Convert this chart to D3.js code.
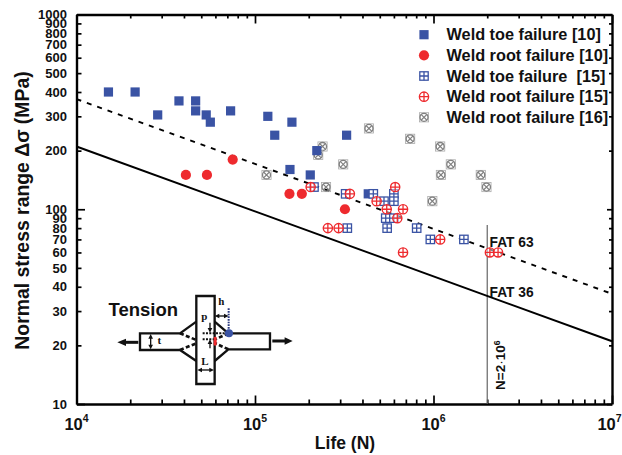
<!DOCTYPE html>
<html><head><meta charset="utf-8">
<script src="https://cdn.jsdelivr.net/npm/d3@7"></script>
<style>html,body{margin:0;padding:0;background:#fff}svg{display:block}text{font-family:"Liberation Sans",Arial,sans-serif;font-weight:bold;fill:#111}</style>
</head><body><div id="chart"></div>
<script>
const yTickValues=[10,20,30,40,50,60,70,80,90,100,200,300,400,500,600,700,800,900,1000];
const xMajor=[1e4,1e5,1e6,1e7];
const xMinorMultipliers=[2,3,4,5,6,7,8,9];
const xMajorExponents=["4","5","6","7"];
const toe10Life=[1.51e4,2.13e4,2.85e4,3.75e4,4.65e4,4.65e4,5.33e4,5.62e4,7.3e4,1.18e5,1.29e5,1.61e5,1.57e5,2.04e5,2.22e5,3.26e5,4.31e5];
const toe10Stress=[400,400,305,360,360,320,305,280,320,300,240,280,160,150,200,240,120];
const root10Life=[4.1e4,5.38e4,7.5e4,1.56e5,1.83e5,3.19e5];
const root10Stress=[150,150,180,120,120,100];
const toe15Life=[2.14e5,3.22e5,4.6e5,5.28e5,6.0e5,6.0e5,5.4e5,6.0e5,5.5e5,3.29e5,8.05e5,9.6e5,1.48e6];
const toe15Stress=[130,120,120,110,120,110,90,90,80,80,80,70,70];
const root15Life=[2.05e5,3.4e5,6.1e5,4.8e5,5.47e5,6.75e5,6.27e5,2.56e5,2.94e5,6.75e5,1.09e6,2.07e6,2.3e6];
const root15Stress=[130,120,130,110,100,100,90,80,80,60,70,60,60];
const root16Life=[1.16e5,4.35e5,7.4e5,1.09e6,2.39e5,2.26e5,3.12e5,1.25e6,1.1e6,1.84e6,1.98e6,2.5e5,9.85e5];
const root16Stress=[150,260,230,210,210,190,170,170,150,150,130,130,110];
const fatLife=[1e4,1e7];
const fat36Stress=[210,21];
const fat63Stress=[368,36.8];
const refLife=[2e6,2e6];
const refStress=[10,83];
const legendLabels=["Weld toe failure [10]","Weld root failure [10]","Weld toe failure  [15]","Weld root failure [15]","Weld root failure [16]"];
const BLUE="#3a53a4",RED="#ee2a2e",GRAY="#808080";

const W=622,H=455,L=76.5,R=612,T=14.5,B=404;
const svg=d3.select("#chart").append("svg").attr("width",W).attr("height",H).attr("viewBox",`0 0 ${W} ${H}`);
const x=d3.scaleLog().domain([1e4,1e7]).range([L,R]);
const y=d3.scaleLog().domain([10,1000]).range([B,T]);
const xAll=[];
xMajor.forEach(m=>{xAll.push(m);if(m<1e7)xMinorMultipliers.forEach(k=>xAll.push(m*k));});
const isMajorX=v=>xMajor.some(m=>Math.abs(m-v)<1);
const isMajorY=v=>v===10||v===100||v===1000;

function style(g){
  g.selectAll("path").attr("stroke","#000").attr("stroke-width",2.4);
  g.selectAll(".tick line").attr("stroke","#000").attr("stroke-width",1.7);
}
const gb=svg.append("g").attr("transform",`translate(0,${B})`).call(d3.axisBottom(x).tickValues(xAll).tickSizeOuter(0).tickSizeInner(-4.5).tickFormat(""));
style(gb);gb.selectAll(".tick line").filter(isMajorX).attr("y2",-8.5);
const gt=svg.append("g").attr("transform",`translate(0,${T})`).call(d3.axisTop(x).tickValues(xAll).tickSizeOuter(0).tickSizeInner(-4).tickFormat(""));
style(gt);gt.selectAll(".tick line").filter(isMajorX).attr("y2",9);
const gl=svg.append("g").attr("transform",`translate(${L},0)`).call(d3.axisLeft(y).tickValues(yTickValues).tickSizeOuter(0).tickSizeInner(-5).tickPadding(9.5).tickFormat(d3.format("d")));
style(gl);gl.selectAll(".tick line").filter(isMajorY).attr("x2",8.5);
gl.selectAll("text").style("font-size","13px").attr("fill","#111");
const gr=svg.append("g").attr("transform",`translate(${R},0)`).call(d3.axisRight(y).tickValues(yTickValues).tickSizeOuter(0).tickSizeInner(-3).tickFormat(""));
style(gr);gr.selectAll(".tick line").filter(isMajorY).attr("x2",-5);

xMajor.forEach((m,i)=>{
  const t=svg.append("text").attr("x",Math.min(x(m),609.5)).attr("y",430).attr("text-anchor","middle").style("font-size","16.5px");
  t.append("tspan").text("10");
  t.append("tspan").attr("dy",-8).style("font-size","10.5px").text(xMajorExponents[i]);
});
svg.append("text").attr("x",345).attr("y",449).attr("text-anchor","middle").style("font-size","17.5px").text("Life (N)");
svg.append("text").attr("transform","translate(29,210.5) rotate(-90)").attr("text-anchor","middle").style("font-size","19.4px").text("Normal stress range Δσ (MPa)");

const line=d3.line().x(d=>x(d[0])).y(d=>y(d[1]));
const gl2=svg.append("g").attr("fill","none");
gl2.append("path").attr("d",line(d3.zip(refLife,refStress))).attr("stroke","#666").attr("stroke-width",1.2);
gl2.append("path").attr("d",line(d3.zip(fatLife,fat36Stress))).attr("stroke","#000").attr("stroke-width",1.9);
gl2.append("path").attr("d",line(d3.zip(fatLife,fat63Stress))).attr("stroke","#000").attr("stroke-width",1.9).attr("stroke-dasharray","5,6");

const marker={
  filledSquare(g){g.append("rect").attr("x",-4.6).attr("y",-4.6).attr("width",9.2).attr("height",9.2).attr("fill",BLUE);},
  filledCircle(g){g.append("circle").attr("r",5.1).attr("fill",RED);},
  gridSquare(g){
    g.append("rect").attr("x",-4.2).attr("y",-4.2).attr("width",8.4).attr("height",8.4).attr("fill","#fff").attr("stroke",BLUE).attr("stroke-width",1.3);
    g.append("path").attr("d","M0,-4.2V4.2M-4.2,0H4.2").attr("stroke",BLUE).attr("stroke-width",1.3).attr("fill","none");
  },
  crossCircle(g){
    g.append("circle").attr("r",4.6).attr("fill","#fff").attr("fill-opacity",.5).attr("stroke",RED).attr("stroke-width",1.4);
    g.append("path").attr("d","M-4.6,0H4.6M0,-4.6V4.6").attr("stroke",RED).attr("stroke-width",1.3);
  },
  xCircle(g){
    g.append("rect").attr("x",-4.6).attr("y",-4.6).attr("width",9.2).attr("height",9.2).attr("fill","none").attr("stroke","#aaa").attr("stroke-width",.8);
    g.append("circle").attr("r",4).attr("fill","none").attr("stroke",GRAY).attr("stroke-width",1.3);
    g.append("path").attr("d","M-3.2,-3.2L3.2,3.2M-3.2,3.2L3.2,-3.2").attr("stroke",GRAY).attr("stroke-width",1.2);
  }
};
function draw(xs,ys,fn){
  svg.append("g").selectAll("g").data(d3.zip(xs,ys)).join("g")
    .attr("transform",d=>`translate(${x(d[0])},${y(d[1])})`).each(function(){fn(d3.select(this));});
}
draw(root16Life,root16Stress,marker.xCircle);
draw(toe10Life,toe10Stress,marker.filledSquare);
draw(root10Life,root10Stress,marker.filledCircle);
draw(toe15Life,toe15Stress,marker.gridSquare);
draw(root15Life,root15Stress,marker.crossCircle);

const legendMarkers=[marker.filledSquare,marker.filledCircle,marker.gridSquare,marker.crossCircle,marker.xCircle];
const legendY=d3.scalePoint().domain(legendLabels).range([34.7,117.3]);
legendLabels.forEach((lab,i)=>{
  const g=svg.append("g").attr("transform",`translate(424,${legendY(lab)})`);
  legendMarkers[i](g);
  svg.append("text").attr("x",446.5).attr("y",legendY(lab)+5.5).style("white-space","pre").style("font-size","16.3px").text(lab);
});

svg.append("text").attr("x",489.5).attr("y",246.5).style("font-size","13.8px").text("FAT 63");
svg.append("text").attr("x",489.5).attr("y",296.5).style("font-size","13.8px").text("FAT 36");
const nt=svg.append("text").attr("transform","translate(505,390) rotate(-90)").style("font-size","13.5px");
nt.append("tspan").text("N=2");
nt.append("tspan").style("font-weight","normal").text("·");
nt.append("tspan").text("10");
nt.append("tspan").attr("dy",-5).style("font-size","8.5px").text("6");

const sk=svg.append("g").attr("transform","translate(90,280) scale(0.3333)");
const S=(d,w=7,c="#111",dash)=>sk.append("path").attr("d",d).attr("fill","none").attr("stroke",c).attr("stroke-width",w).attr("stroke-dasharray",dash||null);
S("M319,48H374V312H319Z",7);
S("M319,125L270,160H150V210H270L319,243",7);
S("M374,125L415,160H540V208H415L374,243",7);
S("M270,160L319,180M270,210L319,190M415,160L376,178M415,208L376,190",8,"#111","12,7");
S("M145,187H100",9);sk.append("path").attr("d","M82,187L108,176V198Z").attr("fill","#111");
S("M547,183H592",9);sk.append("path").attr("d","M608,183L584,172V194Z").attr("fill","#111");
S("M182,172V198",4);sk.append("path").attr("d","M182,162L175,176H189ZM182,208L175,194H189Z").attr("fill","#111");
S("M330,270H364",4);sk.append("path").attr("d","M322,270L336,263V277ZM372,270L358,263V277Z").attr("fill","#111");
S("M382,108H408",4);sk.append("path").attr("d","M374,108L388,101V115ZM416,108L402,101V115Z").attr("fill","#111");
S("M360,128V148",4);sk.append("path").attr("d","M360,158L353,144H367Z").attr("fill","#111");
S("M360,205V188",4);sk.append("path").attr("d","M360,178L353,192H367Z").attr("fill","#111");
S("M338,160H410M338,178H375",6,"#111","6,4");
S("M416,85V155",6,"#2c3a80","5,3");
sk.append("circle").attr("cx",417).attr("cy",160).attr("r",12).attr("fill",BLUE);
sk.append("rect").attr("x",371).attr("y",170).attr("width",9).attr("height",27).attr("rx",4).attr("fill",RED);
[["t",208,193],["p",343,120],["h",394,76],["L",345,256]].forEach(d=>{
  sk.append("text").attr("x",d[1]).attr("y",d[2]).attr("text-anchor","middle").style("font-family","'Liberation Serif',serif").style("font-size","33px").text(d[0]);
});
svg.append("text").attr("x",108.5).attr("y",316).style("font-size","18.5px").text("Tension");
</script></body></html>
